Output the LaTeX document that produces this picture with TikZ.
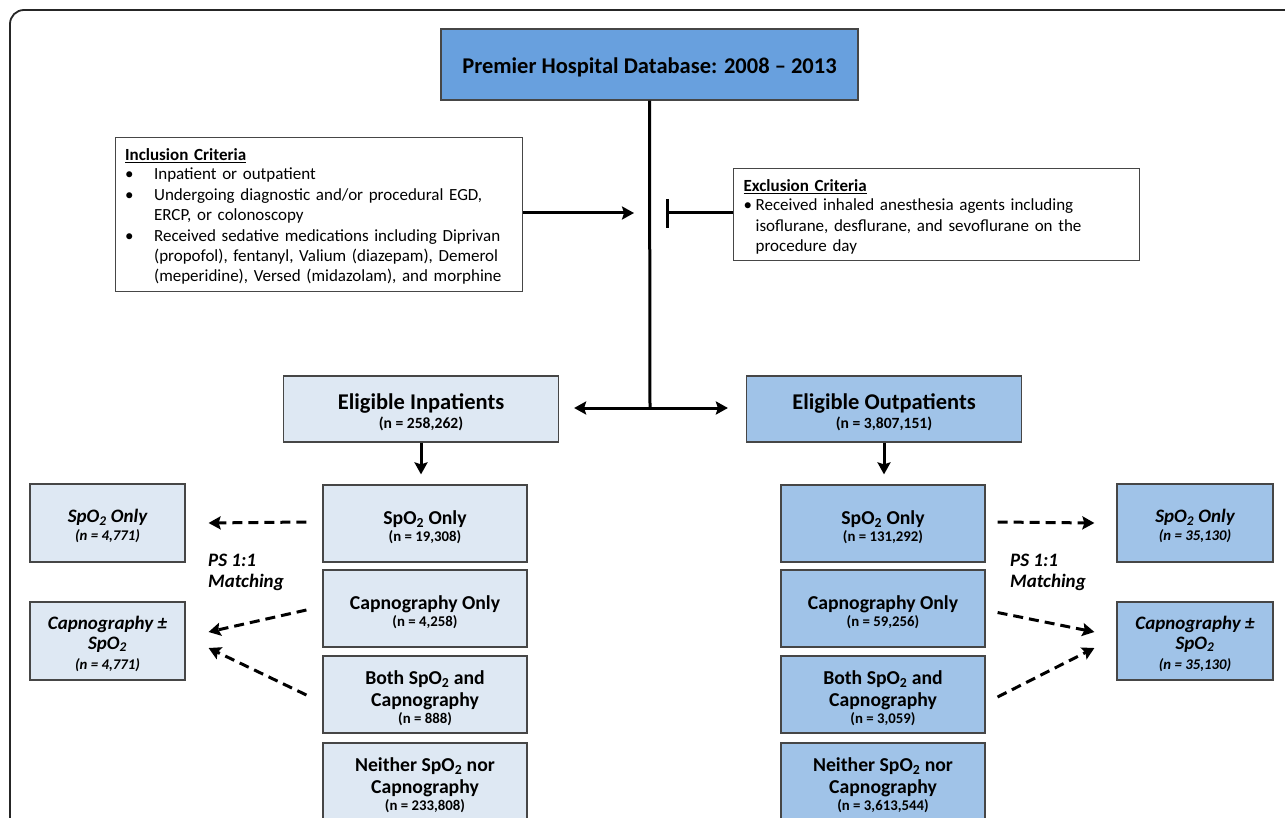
\documentclass[tikz,border=0pt]{standalone}
\usepackage{fontspec}
\setmainfont{Carlito}
\usetikzlibrary{arrows.meta,calc}
\definecolor{titleblue}{RGB}{104,160,222}
\definecolor{outblue}{RGB}{160,195,232}
\definecolor{inblue}{RGB}{222,232,243}
\definecolor{boxline}{RGB}{70,70,70}
\newcommand{\rowf}{\fontsize{19.7}{22}\selectfont\bfseries}
\newcommand{\nf}{\fontsize{14.8}{16}\selectfont\bfseries}
\newcommand{\enf}{\fontsize{15.6}{16}\selectfont\bfseries}
\newcommand{\sidef}{\fontsize{19}{21}\selectfont\bfseries\itshape}
\newcommand{\snf}{\fontsize{14.8}{16}\selectfont\bfseries\itshape}
\newcommand{\subtwo}{\textsubscript{2}}
\newcommand{\lift}[1]{\rule{0pt}{#1}}
\begin{document}
\begin{tikzpicture}[x=1pt,y=-1pt,
  box/.style={draw=boxline,line width=1.2pt,inner sep=0pt,align=center,rectangle},
  titlebox/.style={box,fill=titleblue,minimum width=417pt,minimum height=71pt,font=\fontsize{22.5}{26}\selectfont\bfseries},
  critbox/.style={box,fill=white,align=left,font=\fontsize{17}{20.4}\selectfont},
  elig/.style={box,minimum width=275pt,minimum height=66pt,font=\fontsize{22.5}{24}\selectfont\bfseries},
  eligin/.style={elig,fill=inblue},
  eligout/.style={elig,fill=outblue},
  col/.style={box,minimum width=204pt,minimum height=77pt,font=\rowf},
  colin/.style={col,fill=inblue},
  colout/.style={col,fill=outblue},
  side/.style={box,minimum height=78pt,font=\sidef},
  sidein/.style={side,fill=inblue,minimum width=155pt},
  sideout/.style={side,fill=outblue,minimum width=156pt},
  mainline/.style={line width=3pt,black},
  mainarrow/.style={mainline,-{Stealth[length=12pt,width=13pt,inset=2pt]}},
  dasharrow/.style={line width=3pt,dash pattern=on 10pt off 6pt,-{Stealth[length=12pt,width=13pt,inset=2pt]}},
  matchlabel/.style={inner sep=0pt,align=left,anchor=north west,font=\fontsize{19}{21}\selectfont\bfseries\itshape}
]
\useasboundingbox (0,0) rectangle (1285,818);
\begin{scope}
\clip (0,0) rectangle (1285,818);
\draw[line width=1.8pt,rounded corners=14pt,black!85] (10,10) rectangle (1320,860);

% top
\node[titlebox] (title) at (649.5,64.5) {\lift{21.5pt}Premier Hospital Database: 2008 -- 2013};

\node[critbox,minimum width=407pt,minimum height=154pt,anchor=north west,text width=400pt] (incl) at (115,137) {\hspace*{6pt}%
\begin{tabular}{@{}p{29pt}@{}l@{}}
\multicolumn{2}{@{}l}{\lift{19.3pt}\bfseries\underline{Inclusion Criteria}}\\[-1pt]
\textbullet & Inpatient or outpatient\\
\textbullet & Undergoing diagnostic and/or procedural EGD,\\
 & ERCP, or colonoscopy\\
\textbullet & Received sedative medications including Diprivan\\
 & (propofol), fentanyl, Valium (diazepam), Demerol\\
 & (meperidine), Versed (midazolam), and morphine
\end{tabular}};

\node[critbox,minimum width=406pt,minimum height=92pt,anchor=north west,text width=400pt] (excl) at (733,168) {\hspace*{7pt}%
\begin{tabular}{@{}p{12pt}@{}l@{}}
\multicolumn{2}{@{}l}{\lift{20.3pt}\bfseries\underline{Exclusion Criteria}}\\[-1pt]
\textbullet & Received inhaled anesthesia agents including\\
 & isoflurane, desflurane, and sevoflurane on the\\
 & procedure day
\end{tabular}};

% eligible
\node[eligin] (einp) at (421,409) {\lift{22.5pt}Eligible Inpatients\\[-5pt]\enf (n = 258,262)};
\node[eligout] (eout) at (884,409) {\lift{22.5pt}Eligible Outpatients\\[-5pt]\enf (n = 3,807,151)};

% inpatient column
\node[colin] (i1) at (425,523.5) {\lift{20.5pt}SpO\subtwo{} Only\\[-5pt]\nf (n = 19,308)};
\node[colin] (i2) at (425,608.5) {\lift{20.5pt}Capnography Only\\[-5pt]\nf (n = 4,258)};
\node[colin] (i3) at (425,694.5) {\lift{21.5pt}Both SpO\subtwo{} and\\Capnography\\[-4.5pt]\nf (n = 888)};
\node[colin] (i4) at (425,781.5) {\lift{21.5pt}Neither SpO\subtwo{} nor\\Capnography\\[-4.5pt]\nf (n = 233,808)};

% outpatient column
\node[colout] (o1) at (883,523.5) {\lift{20.5pt}SpO\subtwo{} Only\\[-5pt]\nf (n = 131,292)};
\node[colout] (o2) at (883,608.5) {\lift{20.5pt}Capnography Only\\[-5pt]\nf (n = 59,256)};
\node[colout] (o3) at (883,694.5) {\lift{21.5pt}Both SpO\subtwo{} and\\Capnography\\[-4.5pt]\nf (n = 3,059)};
\node[colout] (o4) at (883,781.5) {\lift{21.5pt}Neither SpO\subtwo{} nor\\Capnography\\[-4.5pt]\nf (n = 3,613,544)};

% matched boxes
\node[sidein] (l1) at (107.5,523) {\lift{20pt}SpO\subtwo{} Only\\[-3pt]\snf (n = 4,771)};
\node[sidein] (l2) at (107.5,641) {\lift{18.5pt}Capnography ±\\[-1pt]SpO\subtwo\\[-1pt]\snf (n = 4,771)};
\node[sideout] (r1) at (1195,523) {\lift{20pt}SpO\subtwo{} Only\\[-3pt]\snf (n = 35,130)};
\node[sideout] (r2) at (1195,641) {\lift{18.5pt}Capnography ±\\[-1pt]SpO\subtwo\\[-1pt]\snf (n = 35,130)};

\node[matchlabel] (ml) at (208,554) {PS 1:1\\Matching};
\node[matchlabel] (mr) at (1010,554) {PS 1:1\\Matching};

% main connectors
\coordinate (j) at (650,408);
\draw[mainline] (title.south) -- (j);
\draw[mainarrow,shorten >=15pt] (j) -- (einp.east |- j);
\draw[mainarrow,shorten >=18pt] (j) -- (eout.west |- j);
\coordinate (inclend) at (634,213);
\draw[mainarrow] (incl.east |- inclend) -- (inclend);
\coordinate (barx) at (667,213);
\draw[mainline] (excl.west |- barx) -- (barx);
\draw[mainline] ($(barx)+(0,-14)$) -- ($(barx)+(0,15)$);
\draw[mainarrow,shorten >=10pt] (einp.south) -- (einp.south |- i1.north);
\draw[mainarrow,shorten >=10pt] (eout.south) -- (eout.south |- o1.north);

% dashed matching arrows
\draw[dasharrow] ($(i1.west)+(-16,-1.5)$) -- ($(l1.east)+(23,0)$);
\draw[dasharrow] ($(i2.west)+(-16,1.5)$) -- ($(l2.east)+(23,-9)$);
\draw[dasharrow] ($(i3.west)+(-16,0.5)$) -- ($(l2.east)+(23,7)$);
\draw[dasharrow] ($(o1.east)+(12,-1.5)$) -- ($(r1.west)+(-22,0)$);
\draw[dasharrow] ($(o2.east)+(12,4)$) -- ($(r2.west)+(-22,-9)$);
\draw[dasharrow] ($(o3.east)+(12,2.5)$) -- ($(r2.west)+(-22,7)$);
\end{scope}
\end{tikzpicture}
\end{document}
